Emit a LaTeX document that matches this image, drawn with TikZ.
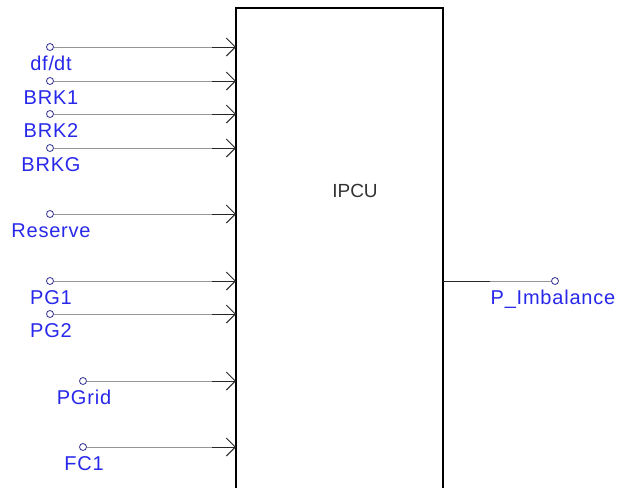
\documentclass[tikz,border=0pt]{standalone}
\usepackage{fontspec}
\setmainfont{Liberation Sans}
\newfontfamily\lblfont[LetterSpace=4]{Liberation Sans}
\usetikzlibrary{arrows.meta}
\definecolor{lblblue}{RGB}{40,40,235}
\definecolor{pinblue}{RGB}{50,50,150}
\definecolor{wiregray}{RGB}{150,150,150}
\definecolor{wiredark}{RGB}{40,40,40}
\tikzset{
  pin/.style={circle,draw=pinblue,line width=0.8pt,fill=white,inner sep=0pt,minimum size=7pt},
  lbl/.style={text=lblblue,font=\lblfont\fontsize{20}{20}\selectfont,inner sep=0pt,anchor=base},
  wire/.style={draw=wiregray,line width=1pt},
  wiretip/.style={draw=wiredark,line width=1pt,-{Straight Barb[length=9pt,width=18pt,line width=1pt]}},
  blockline/.style={draw=black,line width=1.5pt},
}
\begin{document}
\begin{tikzpicture}[x=1pt,y=-1pt]
\useasboundingbox (0,0) rectangle (619,488);
\fill[white] (0,0) rectangle (619,488);
% block
\draw[blockline] (236,488) -- (236,8) -- (443,8) -- (443,488);
\node[text=black!80,font=\fontsize{19}{19}\selectfont,inner sep=0pt,anchor=base] (title) at (355,197) {IPCU};
% inputs: name / circle x / y / label
\foreach \n/\cx/\y/\t in {a/50/47/df\slash dt, b/50/81/BRK1, c/50/114/BRK2, d/50/148/BRKG, e/50/214/Reserve, f/50/281/PG1, g/50/314/PG2, h/83/381/PGrid, i/83/447/FC1}{
  \node[pin] (p\n) at (\cx,\y) {};
  \coordinate (m\n) at (212,\y);
  \coordinate (e\n) at (236,\y);
  \draw[wire] (p\n) -- (m\n);
  \draw[wiretip] (m\n) -- (e\n);
  \node[lbl] (l\n) at (\cx+1,\y+23) {\t};
}
% output
\coordinate (oe) at (443,281);
\coordinate (om) at (490,281);
\node[pin] (po) at (555,281) {};
\draw[draw=wiredark,line width=1pt] (oe) -- (om);
\draw[wire] (om) -- (po);
\node[lbl] (lo) at (553,304) {P\_Imbalance};
\end{tikzpicture}
\end{document}
